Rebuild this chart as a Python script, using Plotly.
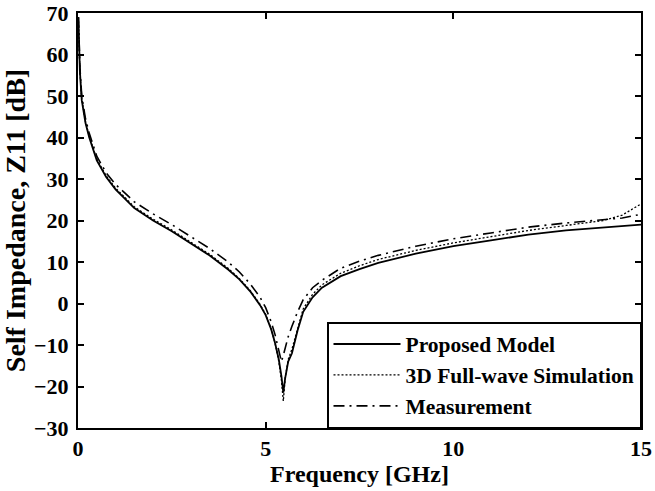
import plotly.graph_objects as go

freq = [0.01, 0.02, 0.05, 0.1, 0.2, 0.3, 0.5, 0.75, 1.0, 1.5, 2.0, 2.5, 3.0, 3.5, 4.0, 4.3, 4.6, 4.85,
        5.0, 5.15, 5.25, 5.35, 5.42, 5.47, 5.52, 5.6, 5.7, 5.85, 6.0, 6.25, 6.5, 7.0, 7.5, 8.0,
        9.0, 10.0, 11.0, 12.0, 13.0, 14.0, 14.5, 15.0]

proposed = [69, 66, 56, 49, 43.5, 40, 34.5, 30.5, 27.5, 23.0, 20.0, 17.4, 14.6, 11.6, 8.2, 5.8, 2.8, -0.4,
            -2.8, -6.3, -9.5, -13.5, -17.5, -21.5, -18, -14, -12, -6.5, -2.0, 1.5, 3.8, 6.6, 8.3, 9.8,
            12.0, 13.8, 15.2, 16.6, 17.6, 18.3, 18.6, 19.0]

simulation = [69, 66, 56, 49.3, 43.8, 40.3, 34.8, 30.8, 27.8, 23.3, 20.3, 17.7, 14.9, 11.9, 8.5, 6.0, 3.0, -0.2,
              -2.6, -6.2, -9.5, -14, -18.5, -23.5, -18, -13.5, -11, -5.8, -1.3, 2.2, 4.5, 7.3, 9.1, 10.6,
              12.8, 14.6, 16.1, 17.6, 18.8, 20.0, 21.3, 24.0]

measurement = [69, 66, 57, 50, 44.5, 41, 35.5, 31.5, 28.7, 24.5, 21.6, 19.0, 16.2, 13.3, 10.0, 7.6, 4.6, 1.5,
               -1.0, -4.5, -7.5, -11.5, -14.0, -12.5, -10.5, -8.0, -5.5, -2.0, 0.9, 3.8, 5.6, 8.5, 10.2, 11.6,
               13.8, 15.6, 17.0, 18.4, 19.4, 20.2, 20.6, 21.5]

x_ticks = [0, 5, 10, 15]
y_ticks = [-30, -20, -10, 0, 10, 20, 30, 40, 50, 60, 70]

FONT = "Liberation Serif"

fig = go.Figure()
fig.add_trace(go.Scatter(x=freq, y=proposed, mode="lines", name="Proposed Model",
                         line=dict(color="black", width=1.8)))
fig.add_trace(go.Scatter(x=freq, y=simulation, mode="lines", name="3D Full-wave Simulation",
                         line=dict(color="black", width=1.3, dash="2px,2px")))
fig.add_trace(go.Scatter(x=freq, y=measurement, mode="lines", name="Measurement",
                         line=dict(color="black", width=1.6, dash="11px,5px,2px,5px")))

axis_common = dict(showgrid=False, zeroline=False, showline=True, linecolor="black", linewidth=2,
                   mirror="ticks", ticks="inside", ticklen=6, tickwidth=1.5, tickcolor="black",
                   tickfont=dict(family=FONT, size=22, color="black", weight="bold"))

fig.update_xaxes(range=[0, 15], tickvals=x_ticks, ticklabelstandoff=0,
                 title=dict(text="Frequency [GHz]", standoff=0,
                            font=dict(family=FONT, size=24, color="black", weight="bold")),
                 **axis_common)
fig.update_yaxes(range=[-30, 70], tickvals=y_ticks, ticklabelstandoff=3,
                 title=dict(text="Self Impedance, Z11 [dB]", standoff=2,
                            font=dict(family=FONT, size=28, color="black", weight="bold")),
                 **axis_common)

fig.update_layout(
    width=655, height=491,
    margin=dict(l=78, r=14, t=13, b=63, autoexpand=False),
    paper_bgcolor="white", plot_bgcolor="white",
    font=dict(family=FONT, color="black", weight="bold"),
    showlegend=True,
    legend=dict(x=1, y=0, xanchor="right", yanchor="bottom",
                bgcolor="white", bordercolor="black", borderwidth=1.5,
                itemwidth=67, tracegroupgap=0,
                font=dict(family=FONT, size=21.5, color="black", weight="bold")),
)

fig.write_html("out.html", config={"displayModeBar": False},
               post_script="document.body.style.margin='0px';document.body.style.overflow='hidden';")
